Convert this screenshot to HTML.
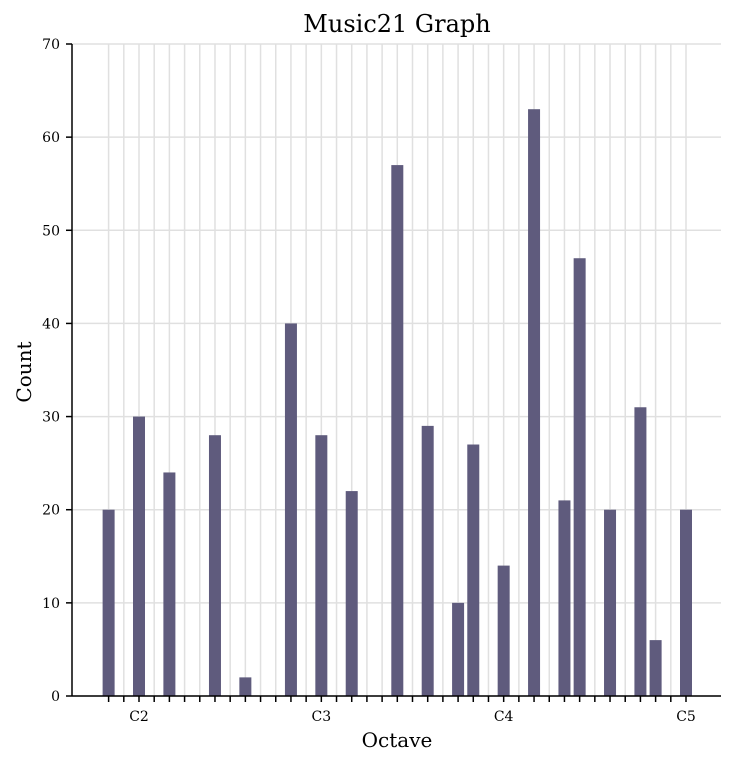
<!DOCTYPE html>
<html><head><meta charset="utf-8"><style>
body{margin:0;background:#fff;}
svg text{font-family:"DejaVu Serif","Liberation Serif",serif;fill:#000;}
</style></head><body>
<svg id="chart" width="739" height="765">
<rect width="739" height="765" fill="#fff"/>
<text x="397" y="32" text-anchor="middle" font-size="24">Music21 Graph</text>
<g id="grid"></g><g id="bars"></g><g id="axes"></g>
<text x="397" y="747" text-anchor="middle" font-size="20">Octave</text>
<text transform="translate(31,372) rotate(-90)" text-anchor="middle" font-size="20">Count</text>
</svg>
<script>
// semitone offsets from C2 and counts
const semitones = [-2,0,2,5,7,10,12,14,17,19,21,22,24,26,28,29,31,33,34,36];
const counts = [20,30,24,28,2,40,28,22,57,29,10,27,14,63,21,47,20,31,6,20];
const yTicks = [0,10,20,30,40,50,60,70];
const xLabels = ["C2","C3","C4","C5"];
const xLabelSemis = [0,12,24,36];
const NS="http://www.w3.org/2000/svg";
const X0=72,X1=721,Y0=696,Y1=44;
const xs=s=>139+s*(547/36);
const ys=v=>Y0-(v/70)*(Y0-Y1);
function mk(tag,attrs,parent){const e=document.createElementNS(NS,tag);for(const k in attrs)e.setAttribute(k,attrs[k]);parent.appendChild(e);return e;}
const grid=document.getElementById('grid'),bars=document.getElementById('bars'),axes=document.getElementById('axes');
yTicks.forEach(v=>{
 const l=mk('line',{x1:X0,x2:X1,y1:ys(v),y2:ys(v),stroke:'#e0e0e0','stroke-width':1.5},grid);
 
 
 const t=mk('line',{x1:X0-6,x2:X0,y1:ys(v),y2:ys(v),stroke:'#000','stroke-width':1.5},axes);
 
 
 const tx=mk('text',{x:X0-12,y:ys(v)+5,'text-anchor':'end','font-size':14},axes);
 tx.textContent=v;
 
 
});
for(let s=-2;s<=36;s++){
 const l=mk('line',{x1:xs(s),x2:xs(s),y1:Y1,y2:Y0,stroke:'#e0e0e0','stroke-width':1.5},grid);
 
 
 const t=mk('line',{x1:xs(s),x2:xs(s),y1:Y0,y2:Y0+6,stroke:'#000','stroke-width':1.5},axes);
 
 
}
semitones.forEach((s,i)=>{
 const b=mk('rect',{x:xs(s)-6,y:ys(counts[i]),width:12,height:Y0-ys(counts[i]),fill:'#5f5b7d'},bars);
 
 
});
xLabels.forEach((lab,i)=>{
 const t=mk('text',{x:xs(xLabelSemis[i]),y:721,'text-anchor':'middle','font-size':14},axes);
 t.textContent=lab;
 
 
});
const ya=mk('line',{x1:X0,x2:X0,y1:Y1,y2:Y0,stroke:'#000','stroke-width':1.5},axes);


const xa=mk('line',{x1:X0,x2:X1,y1:Y0,y2:Y0,stroke:'#000','stroke-width':1.5},axes);


</script>
</body></html>
